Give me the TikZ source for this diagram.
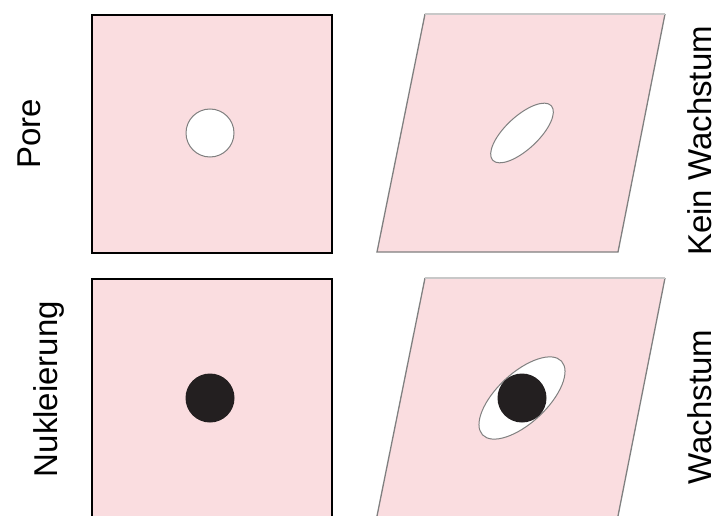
\documentclass[tikz,border=0pt]{standalone}
\usepackage{fontspec}
\setmainfont{Liberation Sans}
\definecolor{pinkfill}{RGB}{250,221,224}
\definecolor{edgegray}{RGB}{128,128,128}
\definecolor{topgray}{RGB}{200,200,200}
\definecolor{dotblack}{RGB}{35,31,32}
\begin{document}
\begin{tikzpicture}[x=1pt,y=-1pt,
  lbl/.style={rotate=90,anchor=base,font=\fontsize{33}{33}\selectfont},
  sqbox/.style={fill=pinkfill,draw=black,line width=2.5pt},
  para/.style={fill=pinkfill,draw=edgegray,line width=1.3pt},
  hole/.style={fill=white,draw=edgegray,line width=1pt},
  nucleus/.style={fill=dotblack}]
\useasboundingbox (0,0) rectangle (717,516);
\begin{scope}
\clip (0,0) rectangle (717,516);
% top left square
\draw[sqbox] (92,15) rectangle (332,253);
\draw[hole] (210,133) circle (24);
% bottom left square
\draw[sqbox] (92,279) rectangle (332,518);
\fill[nucleus] (210,398) circle (24.5);
% top right parallelogram
\fill[pinkfill] (425,14) -- (665,14) -- (618,252) -- (377,252) -- cycle;
\draw[edgegray,line width=1.3pt] (665,14) -- (618,252) -- (377,252) -- (425,14);
\draw[topgray,line width=1.3pt] (425,14) -- (665,14);
\draw[hole,rotate around={43:(522,133)}] (522,133) ellipse (40 and 16.5);
% bottom right parallelogram
\fill[pinkfill] (425,278) -- (665,278) -- (618,516) -- (377,516) -- cycle;
\draw[edgegray,line width=1.3pt] (665,278) -- (618,516);
\draw[edgegray,line width=1.3pt] (377,516) -- (425,278);
\draw[topgray,line width=1.3pt] (425,278) -- (665,278);
\draw[hole,rotate around={43:(522,398)}] (522,398) ellipse (54 and 25);
\fill[nucleus] (522,398) circle (24.5);
\end{scope}
% labels
\node[lbl] (pore) at (40,134) {Pore};
\node[lbl] (nuk) at (57,389) {Nukleierung};
\node[lbl] (kein) at (711,141) {Kein Wachstum};
\node[lbl] (wachs) at (711,407) {Wachstum};
\end{tikzpicture}
\end{document}
